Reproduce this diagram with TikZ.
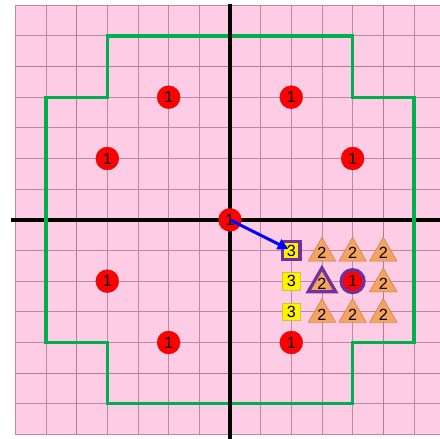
\documentclass[tikz,border=0pt]{standalone}
\usepackage{fontspec}
\setmainfont{Liberation Sans}
\usetikzlibrary{shapes.geometric}
\usetikzlibrary{arrows.meta}
\definecolor{pinkbg}{RGB}{255,204,229}
\definecolor{gridmauve}{RGB}{184,140,160}
\definecolor{gridmajor}{RGB}{172,128,148}
\definecolor{zonegreen}{RGB}{0,176,80}
\definecolor{pickpurple}{RGB}{112,48,160}
\definecolor{tanorange}{RGB}{244,164,96}
\definecolor{tanedge}{RGB}{196,120,70}
\definecolor{sqedge}{RGB}{200,200,60}

\begin{document}
\begin{tikzpicture}[
        gridline/.style={draw=gridmauve, line width=0.8pt},
        majorline/.style={draw=gridmajor, line width=1.1pt},
        axis/.style={draw=black, line width=3.2pt},
        zone/.style={draw=zonegreen, line width=3.1pt},
        type1/.style={circle, fill=red, draw=red!85!black, line width=0.3pt,
                      minimum size=0.75cm, inner sep=0pt,
                      font=\fontsize{15}{15}\selectfont},
        type2/.style={regular polygon, regular polygon sides=3, fill=tanorange,
                      draw=tanedge, line width=0.4pt, minimum size=0.87cm,
                      inner sep=0pt, yshift=-2.5pt,
                      font=\fontsize{15}{15}\selectfont},
        type3/.style={rectangle, fill=yellow, draw=sqedge, line width=0.3pt,
                      minimum size=0.57cm, inner sep=0pt,
                      font=\fontsize{15}{15}\selectfont},
        picked/.style={draw=pickpurple, line width=3pt},
        pointer/.style={-{Triangle[length=10pt,width=10pt]}, draw=blue,
                        line width=2.8pt, shorten >=3pt}
    ]
        \clip (-7.5,-7.14) rectangle (6.85,7.17);
        \fill[pinkbg] (-7,-7) rectangle (7,7);
        \draw[gridline] (-7,-7) grid[step=1] (7,7);
        \draw[majorline] (-5,-7) -- (-5,7) (5,-7) -- (5,7);
        \draw[majorline] (-7,-5) -- (7,-5) (-7,5) -- (7,5);

        % axes and the green zone
        \draw[axis] (-7.13,0) -- (7.2,0);
        \draw[zone] (-4,6) -- (4,6) -- (4,4) -- (6,4) -- (6,-4) -- (4,-4)
            -- (4,-6) -- (-4,-6) -- (-4,-4) -- (-6,-4) -- (-6,4) -- (-4,4)
            -- cycle;
        \draw[axis] (0,7.05) -- (0,-7.2);

        % type 1
        \node[type1] (c0) at (0,0) {1};
        \node[type1] (c1) at (-2,4) {1};
        \node[type1] (c2) at (2,4) {1};
        \node[type1] (c3) at (-4,2) {1};
        \node[type1] (c4) at (4,2) {1};
        \node[type1] (c5) at (-4,-2) {1};
        \node[type1, picked] (c6) at (4,-2) {1};
        \node[type1] (c7) at (-2,-4) {1};
        \node[type1] (c8) at (2,-4) {1};

        % type 3
        \node[type3, picked] (s1) at (2,-1) {3};
        \node[type3] (s2) at (2,-2) {3};
        \node[type3] (s3) at (2,-3) {3};

        % type 2
        \node[type2] (t1) at (3,-1) {2};
        \node[type2] (t2) at (4,-1) {2};
        \node[type2] (t3) at (5,-1) {2};
        \node[type2, picked] (t4) at (3,-2) {2};
        \node[type2] (t5) at (5,-2) {2};
        \node[type2] (t6) at (3,-3) {2};
        \node[type2] (t7) at (4,-3) {2};
        \node[type2] (t8) at (5,-3) {2};

        \draw[pointer] (c0.center) -- (s1.center);
    \end{tikzpicture}
\end{document}
